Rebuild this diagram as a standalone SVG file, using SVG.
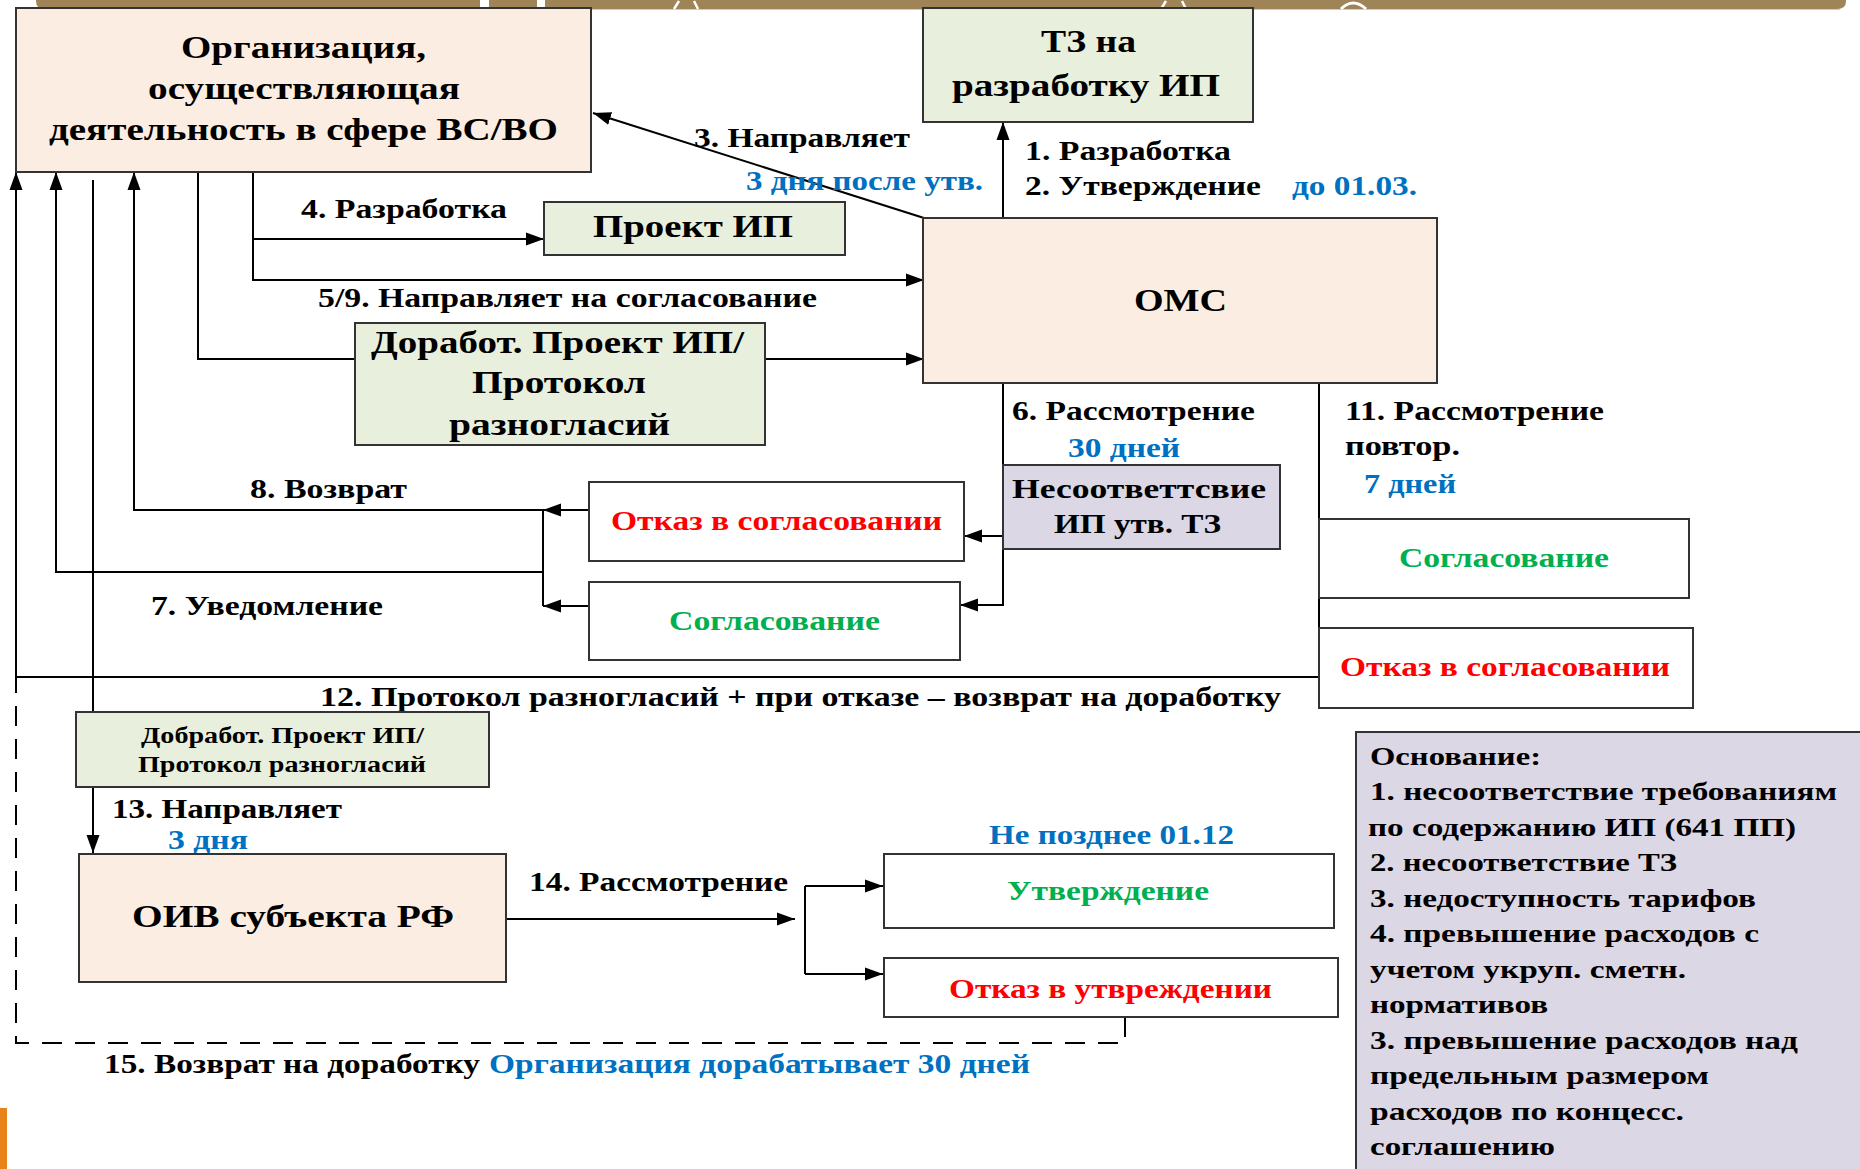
<svg xmlns="http://www.w3.org/2000/svg" width="1860" height="1169" viewBox="0 0 1860 1169">
  <defs>
    <marker id="arr" markerUnits="userSpaceOnUse" markerWidth="19" markerHeight="14" refX="18" refY="7" orient="auto">
      <path d="M0,0.5 L18,7 L0,13.5 z" fill="#000"/>
    </marker>
    <style>
      .box{stroke:#333;stroke-width:2}
      .peach{fill:#FCEDE2}
      .green{fill:#E9EFDD}
      .lav{fill:#DCD7E5}
      .white{fill:#FFFFFF}
      text{font-family:"Liberation Serif","Times New Roman",serif;font-weight:bold;fill:#000}
      .title{font-size:32px}
      .lbl{font-size:28px}
      .small{font-size:24px}
      .note{font-size:26px}
      .blue{fill:#0070C0}
      .red{fill:#FF0000}
      .grn{fill:#00B050}
      .ln{fill:none;stroke:#000;stroke-width:2}
      .dash{stroke-dasharray:20 13}
    </style>
  </defs>

  <!-- page decoration: header band and side accent -->
  <g id="decor">
    <path d="M36,0 H1846 V1 Q1846,9 1837,9 H45 Q36,9 36,1 Z" fill="#9E8457"/>
    <line x1="40" y1="9.5" x2="1840" y2="9.5" stroke="#D8CBAA" stroke-width="1"/>
    <rect x="480" y="0" width="9" height="10" fill="#FFFFFF"/>
    <rect x="537" y="0" width="8" height="10" fill="#FFFFFF"/>
    <path d="M674,9 L679,1 M698,9 L694,1" stroke="#FFFFFF" stroke-width="2.5"/>
    <path d="M1161,9 L1166,1 M1186,9 L1182,1" stroke="#FFFFFF" stroke-width="2.5"/>
    <path d="M1341,9 Q1353,-3 1366,9" fill="none" stroke="#FFFFFF" stroke-width="3"/>
    <rect x="0" y="1108" width="7" height="61" fill="#E8821A"/>
  </g>

  <!-- connectors -->
  <g id="connectors">
    <!-- 3. Направляет -->
    <path class="ln" d="M924,218 L593,113" marker-end="url(#arr)"/>
    <!-- 1./2. Разработка, утверждение ТЗ -->
    <path class="ln" d="M1003,218 V122" marker-end="url(#arr)"/>
    <!-- 4. Разработка -->
    <path class="ln" d="M253,172 V239 H544" marker-end="url(#arr)"/>
    <!-- 5/9. Направляет на согласование -->
    <path class="ln" d="M253,239 V280 H924" marker-end="url(#arr)"/>
    <!-- доработанный проект -->
    <path class="ln" d="M198,172 V359 H355"/>
    <path class="ln" d="M765,359 H924" marker-end="url(#arr)"/>
    <!-- 6. Рассмотрение -->
    <path class="ln" d="M1003,383 V605 H960" marker-end="url(#arr)"/>
    <path class="ln" d="M1003,536 H964" marker-end="url(#arr)"/>
    <!-- 8. Возврат / 7. Уведомление -->
    <path class="ln" d="M589,510 H543" marker-end="url(#arr)"/>
    <path class="ln" d="M589,606 H543" marker-end="url(#arr)"/>
    <path class="ln" d="M543,510 V606"/>
    <path class="ln" d="M543,510 H134 V172" marker-end="url(#arr)"/>
    <path class="ln" d="M543,572 H56 V172" marker-end="url(#arr)"/>
    <!-- 11./12. повторное рассмотрение и протокол разногласий -->
    <path class="ln" d="M1319,383 V677 H16 V172" marker-end="url(#arr)"/>
    <!-- 13. Направляет -->
    <path class="ln" d="M93,180 V712"/>
    <path class="ln" d="M93,787 V853" marker-end="url(#arr)"/>
    <!-- 14. Рассмотрение -->
    <path class="ln" d="M506,919 H795" marker-end="url(#arr)"/>
    <path class="ln" d="M805,886 V974"/>
    <path class="ln" d="M805,886 H883" marker-end="url(#arr)"/>
    <path class="ln" d="M805,974 H883" marker-end="url(#arr)"/>
    <!-- 15. Возврат на доработку -->
    <path class="ln dash" d="M1125,1017 V1043 H16 V677"/>
  </g>

  <!-- connector labels -->
  <g id="labels">
    <text class="lbl" x="694" y="147" textLength="216" lengthAdjust="spacingAndGlyphs">3. Направляет</text>
    <text class="lbl blue" x="746" y="190" textLength="237" lengthAdjust="spacingAndGlyphs">3 дня после утв.</text>
    <text class="lbl" x="1025" y="160" textLength="206" lengthAdjust="spacingAndGlyphs">1. Разработка</text>
    <text class="lbl" x="1025" y="195" textLength="236" lengthAdjust="spacingAndGlyphs">2. Утверждение</text>
    <text class="lbl blue" x="1292" y="195" textLength="125" lengthAdjust="spacingAndGlyphs">до 01.03.</text>
    <text class="lbl" x="301" y="218" textLength="206" lengthAdjust="spacingAndGlyphs">4. Разработка</text>
    <text class="lbl" x="318" y="307" textLength="499" lengthAdjust="spacingAndGlyphs">5/9. Направляет на согласование</text>
    <text class="lbl" x="1012" y="420" textLength="243" lengthAdjust="spacingAndGlyphs">6. Рассмотрение</text>
    <text class="lbl blue" x="1068" y="457" textLength="112" lengthAdjust="spacingAndGlyphs">30 дней</text>
    <text class="lbl" x="1345" y="420" textLength="259" lengthAdjust="spacingAndGlyphs">11. Рассмотрение</text>
    <text class="lbl" x="1345" y="455" textLength="115" lengthAdjust="spacingAndGlyphs">повтор.</text>
    <text class="lbl blue" x="1364" y="493" textLength="92" lengthAdjust="spacingAndGlyphs">7 дней</text>
    <text class="lbl" x="250" y="498" textLength="157" lengthAdjust="spacingAndGlyphs">8. Возврат</text>
    <text class="lbl" x="151" y="615" textLength="232" lengthAdjust="spacingAndGlyphs">7. Уведомление</text>
    <text class="lbl" x="320" y="706" textLength="961" lengthAdjust="spacingAndGlyphs">12. Протокол разногласий  + при отказе – возврат на доработку</text>
    <text class="lbl" x="112" y="818" textLength="230" lengthAdjust="spacingAndGlyphs">13. Направляет</text>
    <text class="lbl blue" x="168" y="849" textLength="80" lengthAdjust="spacingAndGlyphs">3 дня</text>
    <text class="lbl" x="529" y="891" textLength="259" lengthAdjust="spacingAndGlyphs">14. Рассмотрение</text>
    <text class="lbl blue" x="989" y="844" textLength="245" lengthAdjust="spacingAndGlyphs">Не позднее 01.12</text>
    <text class="lbl" x="104" y="1073" textLength="376" lengthAdjust="spacingAndGlyphs">15. Возврат на доработку</text>
    <text class="lbl blue" x="489" y="1073" textLength="541" lengthAdjust="spacingAndGlyphs">Организация дорабатывает 30 дней</text>
  </g>

  <g id="org">
    <rect class="box peach" x="16" y="8" width="575" height="164"/>
    <text class="title" x="181" y="58" textLength="245" lengthAdjust="spacingAndGlyphs">Организация,</text>
    <text class="title" x="148" y="99" textLength="312" lengthAdjust="spacingAndGlyphs">осуществляющая</text>
    <text class="title" x="49" y="140" textLength="509" lengthAdjust="spacingAndGlyphs">деятельность в сфере ВС/ВО</text>
  </g>

  <g id="tz">
    <rect class="box green" x="923" y="8" width="330" height="114"/>
    <text class="title" x="1041" y="52" textLength="95" lengthAdjust="spacingAndGlyphs">ТЗ на</text>
    <text class="title" x="952" y="96" textLength="268" lengthAdjust="spacingAndGlyphs">разработку ИП</text>
  </g>

  <g id="oms">
    <rect class="box peach" x="923" y="218" width="514" height="165"/>
    <text class="title" x="1134" y="311" textLength="93" lengthAdjust="spacingAndGlyphs">ОМС</text>
  </g>

  <g id="project">
    <rect class="box green" x="544" y="202" width="301" height="53"/>
    <text class="title" x="593" y="237" textLength="200" lengthAdjust="spacingAndGlyphs">Проект ИП</text>
  </g>

  <g id="revised">
    <rect class="box green" x="355" y="323" width="410" height="122"/>
    <text class="title" x="371" y="353" textLength="373" lengthAdjust="spacingAndGlyphs">Доработ. Проект ИП/</text>
    <text class="title" x="472" y="393" textLength="174" lengthAdjust="spacingAndGlyphs">Протокол</text>
    <text class="title" x="449" y="435" textLength="221" lengthAdjust="spacingAndGlyphs">разногласий</text>
  </g>

  <g id="refusal1">
    <rect class="box white" x="589" y="482" width="375" height="79"/>
    <text class="lbl red" x="611" y="530" textLength="331" lengthAdjust="spacingAndGlyphs">Отказ в согласовании</text>
  </g>

  <g id="approval1">
    <rect class="box white" x="589" y="582" width="371" height="78"/>
    <text class="lbl grn" x="669" y="630" textLength="211" lengthAdjust="spacingAndGlyphs">Согласование</text>
  </g>

  <g id="mismatch">
    <rect class="box lav" x="1003" y="465" width="277" height="84"/>
    <text class="lbl" x="1012" y="498" textLength="254" lengthAdjust="spacingAndGlyphs">Несоответтсвие</text>
    <text class="lbl" x="1054" y="533" textLength="167" lengthAdjust="spacingAndGlyphs">ИП утв. ТЗ</text>
  </g>

  <g id="approval2">
    <rect class="box white" x="1319" y="519" width="370" height="79"/>
    <text class="lbl grn" x="1399" y="567" textLength="210" lengthAdjust="spacingAndGlyphs">Согласование</text>
  </g>

  <g id="refusal2">
    <rect class="box white" x="1319" y="628" width="374" height="80"/>
    <text class="lbl red" x="1340" y="676" textLength="330" lengthAdjust="spacingAndGlyphs">Отказ в согласовании</text>
  </g>

  <g id="revised2">
    <rect class="box green" x="76" y="712" width="413" height="75"/>
    <text class="small" x="141" y="743" textLength="283" lengthAdjust="spacingAndGlyphs">Добработ. Проект ИП/</text>
    <text class="small" x="138" y="772" textLength="288" lengthAdjust="spacingAndGlyphs">Протокол разногласий</text>
  </g>

  <g id="oiv">
    <rect class="box peach" x="79" y="854" width="427" height="128"/>
    <text class="title" x="132" y="927" textLength="322" lengthAdjust="spacingAndGlyphs">ОИВ субъекта РФ</text>
  </g>

  <g id="approved">
    <rect class="box white" x="884" y="854" width="450" height="74"/>
    <text class="lbl grn" x="1007" y="900" textLength="202" lengthAdjust="spacingAndGlyphs">Утверждение</text>
  </g>

  <g id="rejected">
    <rect class="box white" x="884" y="958" width="454" height="59"/>
    <text class="lbl red" x="949" y="998" textLength="323" lengthAdjust="spacingAndGlyphs">Отказ в утвреждении</text>
  </g>

  <g id="grounds">
    <rect class="box lav" x="1356" y="732" width="520" height="450"/>
    <text class="note" x="1370" y="765" textLength="171" lengthAdjust="spacingAndGlyphs">Основание:</text>
    <text class="note" x="1370" y="800" textLength="467" lengthAdjust="spacingAndGlyphs">1. несоответствие требованиям</text>
    <text class="note" x="1368" y="836" textLength="428" lengthAdjust="spacingAndGlyphs">по содержанию ИП (641 ПП)</text>
    <text class="note" x="1370" y="871" textLength="307" lengthAdjust="spacingAndGlyphs">2. несоответствие ТЗ</text>
    <text class="note" x="1370" y="907" textLength="386" lengthAdjust="spacingAndGlyphs">3. недоступность  тарифов</text>
    <text class="note" x="1370" y="942" textLength="389" lengthAdjust="spacingAndGlyphs">4. превышение расходов с</text>
    <text class="note" x="1370" y="978" textLength="316" lengthAdjust="spacingAndGlyphs">учетом укруп. сметн.</text>
    <text class="note" x="1370" y="1013" textLength="178" lengthAdjust="spacingAndGlyphs">нормативов</text>
    <text class="note" x="1370" y="1049" textLength="428" lengthAdjust="spacingAndGlyphs">3. превышение расходов над</text>
    <text class="note" x="1370" y="1084" textLength="339" lengthAdjust="spacingAndGlyphs">предельным размером</text>
    <text class="note" x="1370" y="1120" textLength="314" lengthAdjust="spacingAndGlyphs">расходов по концесс.</text>
    <text class="note" x="1370" y="1155" textLength="185" lengthAdjust="spacingAndGlyphs">соглашению</text>
  </g>
</svg>
